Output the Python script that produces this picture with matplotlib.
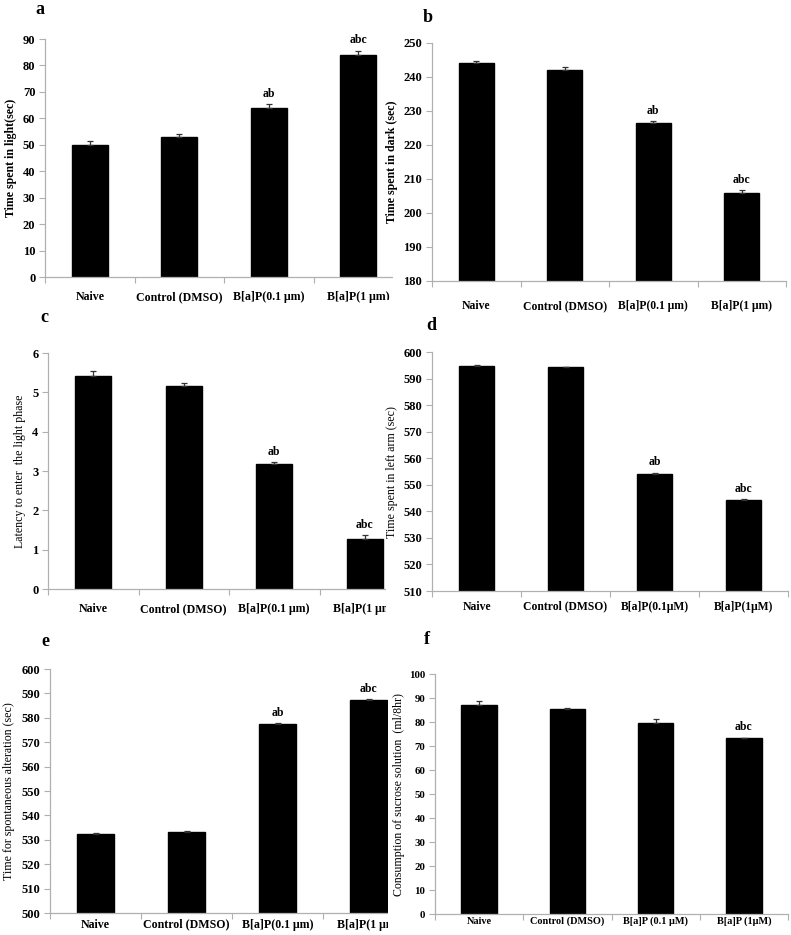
import matplotlib
matplotlib.use("Agg")
import matplotlib.pyplot as plt
from matplotlib.patches import Rectangle

plt.rcParams['font.family'] = ['Liberation Serif', 'DejaVu Serif']

W, H = 791, 935

# ---------------- data ----------------
cats_a = ["Naive", "Control (DMSO)", "B[a]P(0.1 \u03bcm)", "B[a]P(1 \u03bcm)"]
vals_a = [50.0, 53.1, 63.8, 84.0]
err_a = [1.6, 0.9, 1.7, 1.6]
sig_a = ["", "", "ab", "abc"]

cats_b = ["Naive", "Control (DMSO)", "B[a]P(0.1 \u03bcm)", "B[a]P(1 \u03bcm)"]
vals_b = [244.1, 242.1, 226.4, 205.9]
err_b = [0.7, 0.8, 0.7, 0.9]
sig_b = ["", "", "ab", "abc"]

cats_c = ["Naive", "Control (DMSO)", "B[a]P(0.1 \u03bcm)", "B[a]P(1 \u03bcm)"]
vals_c = [5.41, 5.15, 3.17, 1.27]
err_c = [0.12, 0.10, 0.05, 0.11]
sig_c = ["", "", "ab", "abc"]

cats_d = ["Naive", "Control (DMSO)", "B[a]P(0.1\u03bcM)", "B[a]P(1\u03bcM)"]
vals_d = [594.9, 594.2, 554.2, 544.2]
err_d = [0.3, 0.3, 0.4, 0.3]
sig_d = ["", "", "ab", "abc"]

cats_e = ["Naive", "Control (DMSO)", "B[a]P(0.1 \u03bcm)", "B[a]P(1 \u03bcm)"]
vals_e = [532.3, 533.2, 577.5, 587.3]
err_e = [0.3, 0.3, 0.2, 0.3]
sig_e = ["", "", "ab", "abc"]

cats_f = ["Naive", "Control (DMSO)", "B[a]P (0.1 \u03bcM)", "B[a]P (1\u03bcM)"]
vals_f = [87.1, 85.4, 79.4, 73.5]
err_f = [1.5, 0.3, 1.7, 0.0]
sig_f = ["", "", "", "abc"]

panels = [
    # letter, cats, vals, err, sig, ylim, ystep, ylabel, box(px: x0,x1,ytop,ybot),
    # label pos, ylabel x, ylabel bold, tick fs, category fs, category pad
    ("a", cats_a, vals_a, err_a, sig_a, (0, 90), 10, "Time spent in light(sec)",
     (45, 403, 39, 277), (40, 10), 11, True, 9, 8.6, 10),
    ("b", cats_b, vals_b, err_b, sig_b, (180, 250), 10, "Time spent in dark (sec)",
     (432, 786, 43, 281), (428, 18), 392, True, 9, 8.4, 14),
    ("c", cats_c, vals_c, err_c, sig_c, (0, 6), 1, "Latency to enter  the light phase",
     (48, 410, 353, 589), (44, 318), 20, False, 9, 8.6, 10),
    ("d", cats_d, vals_d, err_d, sig_d, (510, 600), 10, "Time spent in left arm (sec)",
     (432, 788, 352, 591), (431, 325), 392, False, 9, 8.4, 7),
    ("e", cats_e, vals_e, err_e, sig_e, (500, 600), 10, "Time for spontaneous alteration (sec)",
     (50, 414, 669, 913), (45, 642), 9, False, 9, 8.6, 4),
    ("f", cats_f, vals_f, err_f, sig_f, (0, 100), 10, "Consumption of sucrose solution  (ml/8hr)",
     (435, 788, 674, 914), (427, 639), 399, False, 7.8, 7.4, 2),
]

fig = plt.figure(figsize=(W / 100, H / 100), dpi=100)
fig.patch.set_facecolor("white")

axes = {}
for (letter, cats, vals, errs, sigs, ylim, ystep, ylabel, box, lpos, ylx,
     ybold, tfs, cfs, cpad) in panels:
    x0, x1, yt, yb = box
    right_col = x0 > 300
    ax = fig.add_axes([x0 / W, 1 - yb / H, (x1 - x0) / W, (yb - yt) / H],
                      zorder=2 if right_col else 0)
    ax.set_facecolor("none")
    xs = list(range(len(cats)))
    ax.bar(xs, vals, width=0.4, color="black", edgecolor="black", zorder=2)
    ax.errorbar(xs, vals, yerr=[[0] * len(errs), errs], fmt="none",
                ecolor="#333333", elinewidth=0.9, capsize=2, capthick=0.9, zorder=3)
    for x, v, e, s in zip(xs, vals, errs, sigs):
        if s:
            ax.annotate(s, (x, v + e), xytext=(0, 3), textcoords="offset points",
                        ha="center", va="bottom", fontsize=8.5, fontweight="bold")
    ax.set_xlim(-0.5, len(cats) - 0.5)
    ax.set_ylim(*ylim)
    ticks = list(range(ylim[0], ylim[1] + 1, ystep))
    ax.set_yticks(ticks)
    ax.set_yticklabels([str(t) for t in ticks], fontsize=tfs, fontweight="bold")
    ax.set_xticks(xs)
    ax.set_xticklabels(cats, fontsize=cfs, fontweight="bold")
    ax.set_xticks([i + 0.5 for i in range(-1, len(cats))], minor=True)
    ax.tick_params(axis="x", which="major", length=0, pad=cpad)
    ax.tick_params(axis="x", which="minor", length=4, color="#b0b0b0", width=0.8)
    ax.tick_params(axis="y", length=4, color="#b0b0b0", width=0.8, pad=3)
    for sp in ("top", "right"):
        ax.spines[sp].set_visible(False)
    for sp in ("left", "bottom"):
        ax.spines[sp].set_color("#b0b0b0")
        ax.spines[sp].set_linewidth(0.9)
    # y label placed in figure coordinates
    fig.text(ylx / W, 1 - ((yt + yb) / 2) / H, ylabel, rotation=90,
             ha="center", va="center", fontsize=8.6,
             fontweight="bold" if ybold else "normal", zorder=3)
    fig.text(lpos[0] / W, 1 - lpos[1] / H, letter, ha="center", va="center",
             fontsize=13, fontweight="bold", zorder=3)
    axes[letter] = ax

# the right-hand panels overlap the cut-off edge of the left-hand panels
for (xc, y0, y1) in [(393, 0, 300), (386, 300, 612), (388, 612, 935)]:
    fig.add_artist(Rectangle((xc / W, 1 - y1 / H), (430 - xc) / W, (y1 - y0) / H,
                             transform=fig.transFigure, facecolor="white",
                             edgecolor="none", zorder=1))

fig.savefig("out.png", dpi=100)
